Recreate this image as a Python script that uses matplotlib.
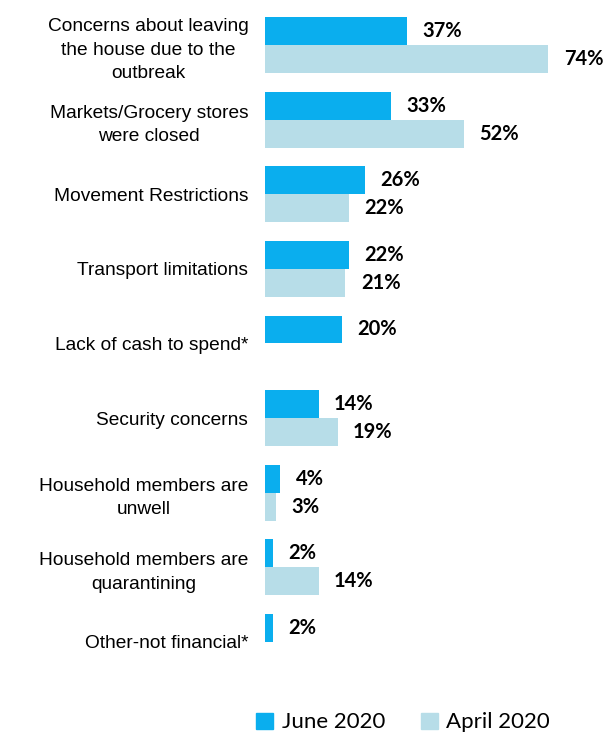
import numpy as np
import matplotlib.pyplot as plt
from matplotlib.patches import Patch

categories = [
    "Concerns about leaving\nthe house due to the\noutbreak",
    "Markets/Grocery stores\nwere closed",
    "Movement Restrictions",
    "Transport limitations",
    "Lack of cash to spend*",
    "Security concerns",
    "Household members are\nunwell",
    "Household members are\nquarantining",
    "Other-not financial*",
]
june = [37, 33, 26, 22, 20, 14, 4, 2, 2]
april = [74, 52, 22, 21, None, 19, 3, 14, None]

c_june = "#0AAEEE"
c_april = "#B7DDE8"

fig = plt.figure(figsize=(6.12, 7.32), dpi=100)
ax = fig.add_axes([265 / 612, 0.072, 1 - 265 / 612, 0.9175])

y = np.arange(len(categories))
h = 0.375

for i, (j, a) in enumerate(zip(june, april)):
    ax.barh(y[i] - h / 2, j, height=h, color=c_june)
    ax.text(j + 4.0, y[i] - h / 2, f"{j}%", va="center", ha="left",
            fontsize=14.5, fontweight="bold", family="Lato")
    if a is not None:
        ax.barh(y[i] + h / 2, a, height=h, color=c_april)
        ax.text(a + 4.0, y[i] + h / 2, f"{a}%", va="center", ha="left",
                fontsize=14.5, fontweight="bold", family="Lato")

ax.set_xlim(0, 347 / 3.83)
ax.set_ylim(len(categories) - 0.5, -0.5)
ax.set_yticks(y)
ax.set_yticklabels(categories, fontsize=13.8, family="Liberation Sans",
                   multialignment="center", linespacing=1.5)
ax.tick_params(axis="y", length=0, pad=12)
ax.set_xticks([])
for s in ax.spines.values():
    s.set_visible(False)

handles = [Patch(color=c_june, label="June 2020"),
           Patch(color=c_april, label="April 2020")]
fig.legend(handles=handles, loc="center", bbox_to_anchor=(0.659, 0.013),
           ncol=2, frameon=False, handlelength=0.75, handleheight=0.75,
           handletextpad=0.4, columnspacing=1.6,
           prop={"family": "Lato", "size": 16})

fig.savefig("out.png", dpi=100)
